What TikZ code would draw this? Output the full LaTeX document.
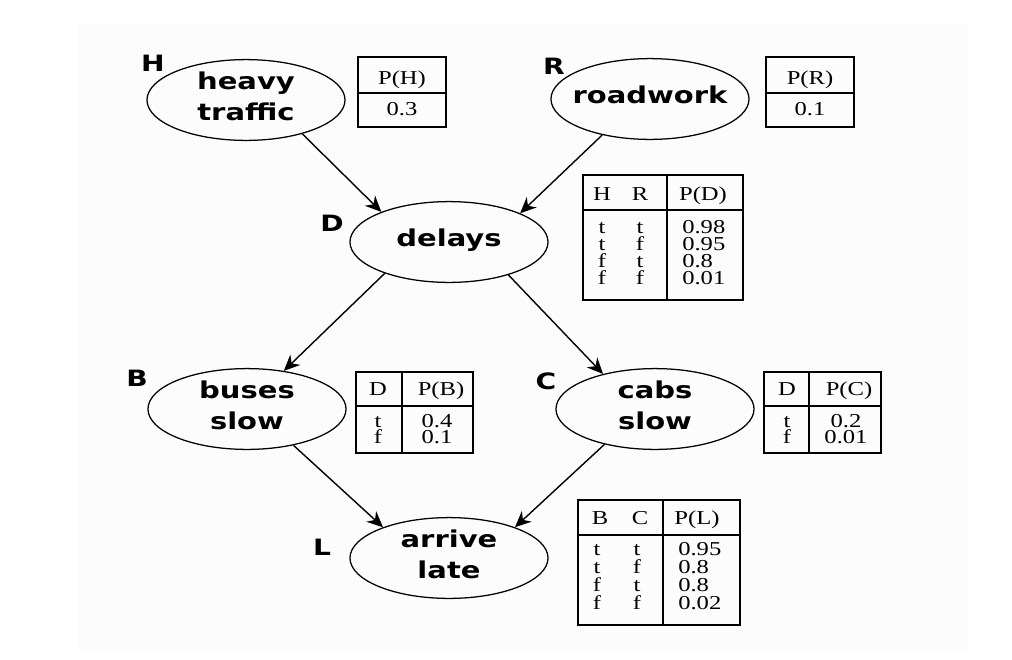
\documentclass[tikz,border=0pt]{standalone}
\usepackage{fontspec}
\usepackage{tikz}
\usetikzlibrary{shapes.geometric, arrows.meta}
\newfontfamily\varfont[FakeStretch=1.25]{DejaVu Sans}
\newfontfamily\cptfont[FakeStretch=1.25]{Liberation Serif}
\definecolor{bnBg}{HTML}{FCFCFC}
\newcommand{\ovtext}[1]{\smash{\raisebox{-3.5pt}{\makebox[0pt]{\begin{tabular}{@{}c@{}}#1\end{tabular}}}}}
\tikzset{
  varnode/.style={
    ellipse, draw, line width=0.9pt,
    inner sep=0pt,
    minimum width=4.95cm, minimum height=2.02cm,
    font=\varfont\bfseries\fontsize{16.5}{21.5}\selectfont
  },
  varlabel/.style={font=\varfont\bfseries\fontsize{16}{18}\selectfont, inner sep=0pt},
  cpt/.style={line width=1.3pt},
  cell/.style={font=\cptfont\fontsize{14}{15}\selectfont, inner sep=0pt, anchor=base},
  cellL/.style={cell, anchor=base west},
  link/.style={
    -{Stealth[length=4mm, width=3.6mm]},
    line width=1pt
  }
}

\begin{document}
\begin{tikzpicture}[x=0.025cm, y=-0.025cm]
  \useasboundingbox (0,0) rectangle (1012,659);
  \fill[bnBg] (78,25) rectangle (968,650);

  % variables
  \node[varnode] (H) at (246,100) {\ovtext{heavy\\traffic}};
  \node[varnode] (R) at (650,99) {\ovtext{roadwork}};
  \node[varnode] (D) at (449,242) {\ovtext{delays}};
  \node[varnode] (B) at (247,409) {\ovtext{buses\\slow}};
  \node[varnode] (C) at (655,409) {\ovtext{cabs\\slow}};
  \node[varnode] (L) at (449,558) {\ovtext{arrive\\late}};

  \node[varlabel] (lH) at (153,63) {H};
  \node[varlabel] (lR) at (554,66) {R};
  \node[varlabel] (lD) at (332,223) {D};
  \node[varlabel] (lB) at (137,378) {B};
  \node[varlabel] (lC) at (546,381) {C};
  \node[varlabel] (lL) at (322,547) {L};

  \draw[link] (H.-31) -- (D.156);
  \draw[link] (R.217) -- (D.22);
  \draw[link] (D.206) -- (B.46);
  \draw[link] (D.-29) -- (C.146);
  \draw[link] (B.-38) -- (L.155);
  \draw[link] (C.215) -- (L.25);

  % P(H)
  \draw[cpt] (358,57) rectangle (446,127);
  \draw[cpt] (358,93) -- (446,93);
  \node[cell] (tH) at (402,84) {P(H)};
  \node[cell] (tH1) at (402,115) {0.3};

  % P(R)
  \draw[cpt] (766,57) rectangle (854,127);
  \draw[cpt] (766,93) -- (854,93);
  \node[cell] (tR) at (810,84) {P(R)};
  \node[cell] (tR1) at (810,115) {0.1};

  % P(D)
  \draw[cpt] (583,175) rectangle (743,300);
  \draw[cpt] (583,210) -- (743,210);
  \draw[cpt] (667,175) -- (667,300);
  \node[cell] (tDh) at (602,200) {H};
  \node[cell] (tDr) at (640,200) {R};
  \node[cell] (tD) at (703,200) {P(D)};
  \foreach \h/\r/\p [count=\i] in {t/t/0.98, t/f/0.95, f/t/0.8, f/f/0.01} {
    \node[cell] (tDh\i) at (602,216+17.2*\i) {\h};
    \node[cell] (tDr\i) at (640,216+17.2*\i) {\r};
    \node[cellL] (tD\i) at (682,216+17.2*\i) {\p};
  }

  % P(B)
  \draw[cpt] (356,372) rectangle (473,453);
  \draw[cpt] (356,406) -- (473,406);
  \draw[cpt] (402,372) -- (402,453);
  \node[cell] (tBd) at (378,395) {D};
  \node[cell] (tB) at (441,395) {P(B)};
  \foreach \d/\p [count=\i] in {t/0.4, f/0.1} {
    \node[cell] (tBd\i) at (378,411+16*\i) {\d};
    \node[cell] (tB\i) at (437,411+16*\i) {\p};
  }

  % P(C)
  \draw[cpt] (764,372) rectangle (881,453);
  \draw[cpt] (764,406) -- (881,406);
  \draw[cpt] (809,372) -- (809,453);
  \node[cell] (tCd) at (787,395) {D};
  \node[cell] (tC) at (849,395) {P(C)};
  \foreach \d/\p [count=\i] in {t/0.2, f/0.01} {
    \node[cell] (tCd\i) at (787,411+16*\i) {\d};
    \node[cell] (tC\i) at (846,411+16*\i) {\p};
  }

  % P(L)
  \draw[cpt] (578,500) rectangle (740,625);
  \draw[cpt] (578,535) -- (740,535);
  \draw[cpt] (663,500) -- (663,625);
  \node[cell] (tLb) at (600,524) {B};
  \node[cell] (tLc) at (640,524) {C};
  \node[cell] (tL) at (697,524) {P(L)};
  \foreach \b/\c/\p [count=\i] in {t/t/0.95, t/f/0.8, f/t/0.8, f/f/0.02} {
    \node[cell] (tLb\i) at (597,537+18*\i) {\b};
    \node[cell] (tLc\i) at (637,537+18*\i) {\c};
    \node[cellL] (tL\i) at (678,537+18*\i) {\p};
  }
\end{tikzpicture}
\end{document}
